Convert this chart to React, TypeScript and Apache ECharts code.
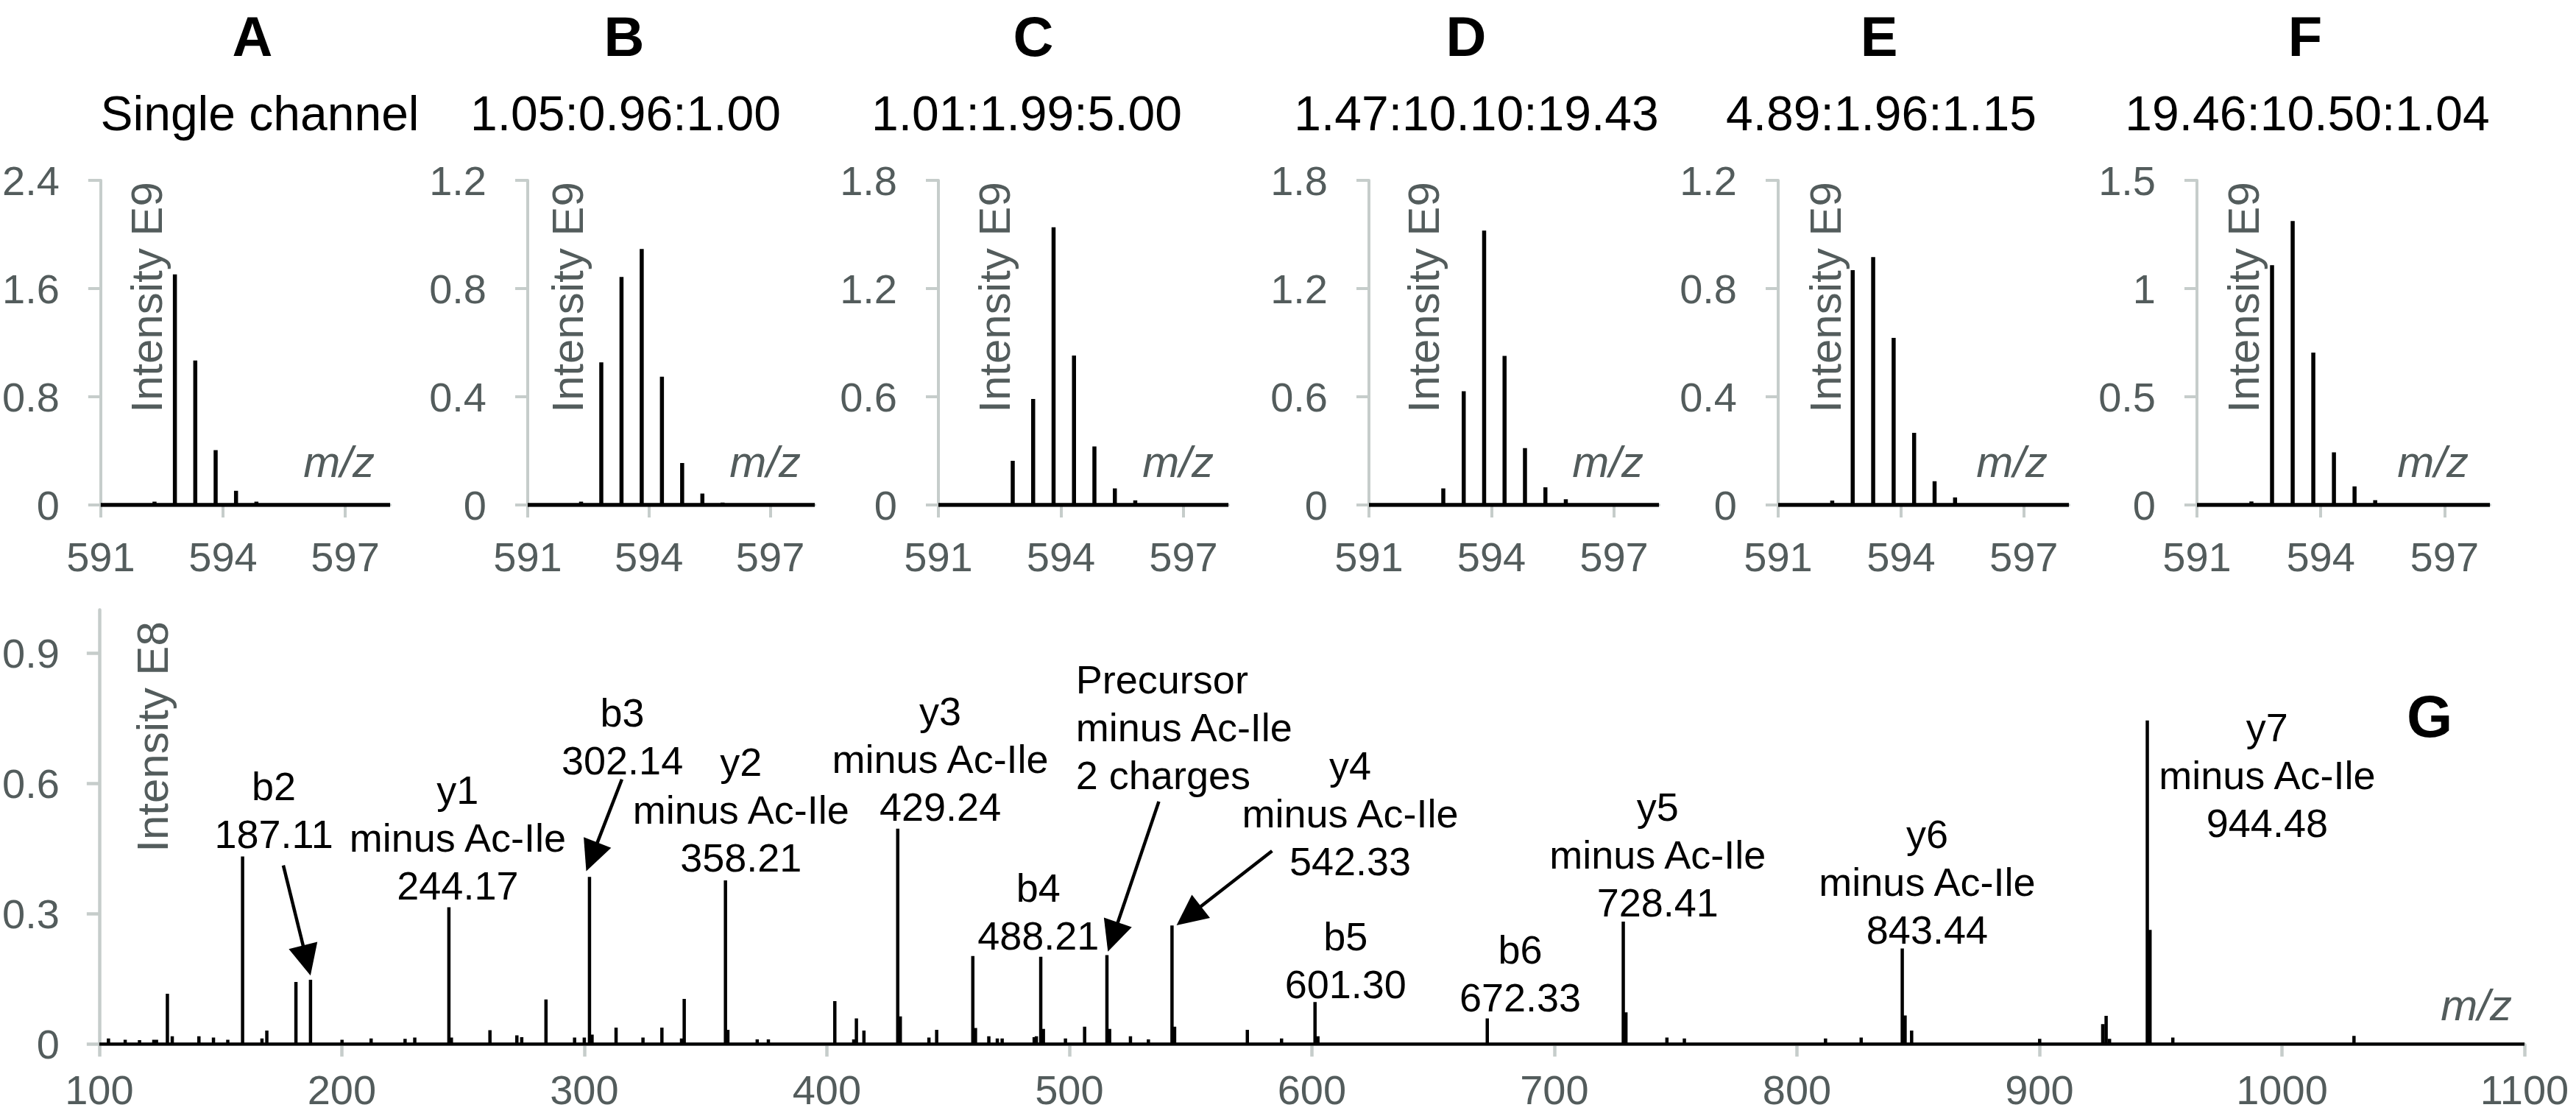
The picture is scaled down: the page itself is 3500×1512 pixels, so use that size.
import React, { useEffect, useRef } from 'react';
import * as echarts from 'echarts';

// ---------------- data ----------------
const PANEL_LETTERS = ['A', 'B', 'C', 'D', 'E', 'F'];
const PANEL_RATIOS = ['Single channel', '1.05:0.96:1.00', '1.01:1.99:5.00', '1.47:10.10:19.43', '4.89:1.96:1.15', '19.46:10.50:1.04'];

// isotope positions (m/z) shared by the six precursor panels
const ISO_MZ = [591.32, 591.82, 592.32, 592.82, 593.32, 593.82, 594.32, 594.82, 595.32, 595.82, 596.32];
const INT_A = [0, 0, 0.025, 1.705, 1.068, 0.405, 0.105, 0.025, 0.012, 0, 0];
const INT_B = [0, 0, 0.012, 0.527, 0.843, 0.946, 0.474, 0.155, 0.042, 0.009, 0];
const INT_C = [0, 0, 0, 0.245, 0.588, 1.54, 0.829, 0.324, 0.092, 0.026, 0.009];
const INT_D = [0, 0, 0.009, 0.092, 0.631, 1.521, 0.827, 0.315, 0.098, 0.032, 0.008];
const INT_E = [0.004, 0.004, 0.016, 0.868, 0.916, 0.618, 0.267, 0.088, 0.028, 0.006, 0];
const INT_F = [0, 0, 0.016, 1.108, 1.312, 0.704, 0.243, 0.086, 0.022, 0.008, 0];
const TOP_INTS = [INT_A, INT_B, INT_C, INT_D, INT_E, INT_F];
const TOP_Y_MAX = [2.4, 1.2, 1.8, 1.8, 1.2, 1.5];
const TOP_Y_STEP = [0.8, 0.4, 0.6, 0.6, 0.4, 0.5];
const TOP_X_MIN = 591;
const TOP_X_MAX = 598.1;
const TOP_X_TICKS = [591, 594, 597];

// MS/MS spectrum (panel G), intensity in E8
const G_MZ = [103.8, 110.7, 116.6, 122.5, 123.6, 128.1, 130.1, 141.1, 147.1, 153.0, 159.1, 167.1, 169.1, 181.1, 187.11, 200.1, 212.1, 226.1, 230.1, 244.17, 245.2, 261.1, 272.2, 274.2, 284.2, 296.0, 300.0, 302.14, 303.2, 313.1, 324.2, 332.0, 340.1, 341.2, 358.21, 359.2, 371.3, 375.9, 403.3, 411.1, 412.2, 415.3, 429.24, 430.3, 442.1, 445.3, 460.2, 461.3, 466.8, 470.3, 472.3, 485.5, 486.4, 488.21, 489.3, 498.4, 506.3, 515.5, 516.6, 525.2, 532.6, 542.33, 543.4, 573.4, 587.5, 601.3, 602.5, 672.33, 728.41, 729.5, 746.4, 753.6, 811.8, 826.5, 843.44, 844.6, 847.3, 900.1, 926.1, 927.5, 928.9, 944.48, 945.6, 955.0, 1029.7];
const G_INT = [0.013, 0.01, 0.009, 0.01, 0.01, 0.116, 0.018, 0.018, 0.015, 0.01, 0.432, 0.013, 0.031, 0.143, 0.148, 0.01, 0.013, 0.012, 0.015, 0.315, 0.015, 0.032, 0.02, 0.016, 0.103, 0.015, 0.015, 0.385, 0.022, 0.038, 0.015, 0.038, 0.013, 0.104, 0.377, 0.033, 0.011, 0.011, 0.099, 0.011, 0.059, 0.031, 0.496, 0.064, 0.015, 0.033, 0.203, 0.037, 0.018, 0.013, 0.013, 0.016, 0.018, 0.201, 0.035, 0.013, 0.04, 0.205, 0.035, 0.018, 0.011, 0.273, 0.04, 0.033, 0.013, 0.097, 0.018, 0.059, 0.282, 0.073, 0.015, 0.013, 0.013, 0.015, 0.22, 0.066, 0.031, 0.012, 0.046, 0.065, 0.012, 0.745, 0.263, 0.015, 0.019];
const G_X_MIN = 100;
const G_X_MAX = 1100;
const G_Y_MAX = 1.0;
const G_Y_TICKS = [0, 0.3, 0.6, 0.9];

// fragment annotations: text lines, anchor m/z, anchor intensity (first baseline), alignment
const ANN_TEXT = [
  ['b2', '187.11'],
  ['y1', 'minus Ac-Ile', '244.17'],
  ['b3', '302.14'],
  ['y2', 'minus Ac-Ile', '358.21'],
  ['y3', 'minus Ac-Ile', '429.24'],
  ['b4', '488.21'],
  ['Precursor', 'minus Ac-Ile', '2 charges'],
  ['y4', 'minus Ac-Ile', '542.33'],
  ['b5', '601.30'],
  ['b6', '672.33'],
  ['y5', 'minus Ac-Ile', '728.41'],
  ['y6', 'minus Ac-Ile', '843.44'],
  ['y7', 'minus Ac-Ile', '944.48'],
];
const ANN_MZ = [172.0, 247.8, 315.7, 364.6, 446.8, 487.2, 502.7, 615.8, 613.9, 685.9, 742.6, 853.7, 993.9];
const ANN_Y = [0.563, 0.553, 0.731, 0.618, 0.735, 0.328, 0.8085, 0.61, 0.217, 0.186, 0.514, 0.4515, 0.698];
const ANN_ALIGN = ['center', 'center', 'center', 'center', 'center', 'center', 'left', 'center', 'center', 'center', 'center', 'center', 'center'];

// arrows: [from m/z, from intensity, to m/z, to intensity]
const ARROWS = [
  [175.9, 0.4115, 187.1, 0.158],
  [315.5, 0.6095, 300.8, 0.398],
  [536.9, 0.5585, 515.9, 0.213],
  [583.6, 0.4447, 544.2, 0.2734],
];

// ---------------- layout / style ----------------
const FONT = '"Liberation Sans", Arial, Helvetica, sans-serif';
const GRAY_TEXT = '#535c5c';
const GRAY_AXIS = '#c6cdcb';
const TOP_GRID_LEFT = [136, 717, 1275, 1860, 2416, 2985];
const TOP_GRID_WIDTH = [394, 390, 394, 394, 395, 398];
const TOP_GRID_TOP = 245;
const TOP_GRID_H = 441;
const LETTER_X = [343, 848, 1404, 1992, 2553, 3132];
const LETTER_Y = 49;
const SUB_X = [353, 850, 1395, 2006, 2556, 3135];
const SUB_Y = 154;
const INT_LABEL_X = [199, 771, 1351, 1934, 2480, 3048];
const INT_LABEL_Y = 404;
const MZ_RIGHT = [509, 1088, 1649, 2233, 2782, 3354];
const MZ_Y = 627;
const ANN_FS = 54;
const ANN_GAP = 65;

function stickLine(mz: number[], ints: number[], min: number, max: number) {
  const out: number[][] = [[min, 0]];
  for (let i = 0; i < mz.length; i++) {
    if (ints[i] <= 0) continue;
    out.push([mz[i], 0], [mz[i], ints[i]], [mz[i], 0]);
  }
  out.push([max, 0]);
  return out;
}

const fmt = (v: number) => String(+(+v).toFixed(2));

export default function App() {
  const ref = useRef<HTMLDivElement>(null);
  useEffect(() => {
    if (!ref.current) return;
    const chart = echarts.init(ref.current, undefined, { renderer: 'svg' });

    const grids: any[] = [];
    const xAxes: any[] = [];
    const yAxes: any[] = [];
    const series: any[] = [];
    const graphics: any[] = [];

    const axisLabelBase = { color: GRAY_TEXT, fontFamily: FONT, fontSize: 56 };

    for (let p = 0; p < 6; p++) {
      grids.push({ left: TOP_GRID_LEFT[p], top: TOP_GRID_TOP, width: TOP_GRID_WIDTH[p], height: TOP_GRID_H, containLabel: false });
      xAxes.push({
        type: 'value', gridIndex: p, min: TOP_X_MIN, max: TOP_X_MAX, interval: 3,
        axisLine: { show: true, lineStyle: { color: GRAY_AXIS, width: 4 } },
        axisTick: { show: true, length: 17, customValues: TOP_X_TICKS, lineStyle: { color: GRAY_AXIS, width: 4 } },
        axisLabel: { ...axisLabelBase, margin: 42, customValues: TOP_X_TICKS, formatter: (v: number) => String(v) },
        splitLine: { show: false },
      });
      yAxes.push({
        type: 'value', gridIndex: p, min: 0, max: TOP_Y_MAX[p], interval: TOP_Y_STEP[p],
        axisLine: { show: true, lineStyle: { color: GRAY_AXIS, width: 4 } },
        axisTick: { show: true, length: 17, lineStyle: { color: GRAY_AXIS, width: 4 } },
        axisLabel: { ...axisLabelBase, margin: 56, formatter: fmt },
        splitLine: { show: false },
      });
      series.push({
        type: 'line', xAxisIndex: p, yAxisIndex: p, showSymbol: false, silent: true,
        data: stickLine(ISO_MZ, TOP_INTS[p], TOP_X_MIN, TOP_X_MAX),
        lineStyle: { color: '#000', width: 5.5, join: 'bevel' }, z: 5,
      });
      graphics.push(
        { type: 'text', x: LETTER_X[p], y: LETTER_Y, style: { text: PANEL_LETTERS[p], fill: '#000', font: `bold 76px ${FONT}`, textAlign: 'center', textVerticalAlign: 'middle', align: 'center', verticalAlign: 'middle' } },
        { type: 'text', x: SUB_X[p], y: SUB_Y, style: { text: PANEL_RATIOS[p], fill: '#000', font: `66px ${FONT}`, textAlign: 'center', textVerticalAlign: 'middle', align: 'center', verticalAlign: 'middle' } },
        { type: 'text', x: INT_LABEL_X[p], y: INT_LABEL_Y, rotation: Math.PI / 2, style: { text: 'Intensity E9', fill: GRAY_TEXT, font: `60px ${FONT}`, textAlign: 'center', textVerticalAlign: 'middle', align: 'center', verticalAlign: 'middle' } },
        { type: 'text', x: MZ_RIGHT[p], y: MZ_Y, style: { text: 'm/z', fill: GRAY_TEXT, font: `italic 60px ${FONT}`, textAlign: 'right', textVerticalAlign: 'middle', align: 'right', verticalAlign: 'middle' } },
      );
    }

    // panel G
    const g = 6;
    grids.push({ left: 134, top: 828.4, width: 3296, height: 590, containLabel: false });
    xAxes.push({
      type: 'value', gridIndex: g, min: G_X_MIN, max: G_X_MAX, interval: 100,
      axisLine: { show: true, lineStyle: { color: GRAY_AXIS, width: 4.5 } },
      axisTick: { show: true, length: 17, lineStyle: { color: GRAY_AXIS, width: 4.5 } },
      axisLabel: { ...axisLabelBase, margin: 34, formatter: (v: number) => String(v) },
      splitLine: { show: false },
    });
    yAxes.push({
      type: 'value', gridIndex: g, min: 0, max: G_Y_MAX, interval: 0.3,
      axisLine: { show: true, lineStyle: { color: GRAY_AXIS, width: 4.5 } },
      axisTick: { show: true, length: 17, customValues: G_Y_TICKS, lineStyle: { color: GRAY_AXIS, width: 4.5 } },
      axisLabel: { ...axisLabelBase, margin: 54, customValues: G_Y_TICKS, formatter: fmt },
      splitLine: { show: false },
    });
    series.push({
      type: 'line', xAxisIndex: g, yAxisIndex: g, showSymbol: false, silent: true,
      data: stickLine(G_MZ, G_INT, G_X_MIN, G_X_MAX),
      lineStyle: { color: '#000', width: 4.5, join: 'bevel' }, z: 5,
    });
    series.push({
      type: 'custom', xAxisIndex: g, yAxisIndex: g, silent: true, clip: false, z: 6,
      data: ANN_MZ.map((m, i) => [m, ANN_Y[i], i]),
      renderItem: (params: any, api: any) => {
        const i = api.value(2);
        const pt = api.coord([api.value(0), api.value(1)]);
        const al = ANN_ALIGN[i];
        return {
          type: 'group',
          children: ANN_TEXT[i].map((t, k) => ({
            type: 'text',
            style: {
              text: t, x: pt[0], y: pt[1] + k * ANN_GAP - 0.3465 * ANN_FS,
              fill: '#000', fontSize: ANN_FS, fontFamily: FONT,
              align: al, verticalAlign: 'middle', textAlign: al, textVerticalAlign: 'middle',
            },
          })),
        };
      },
    });
    series.push({
      type: 'custom', xAxisIndex: g, yAxisIndex: g, silent: true, clip: false, z: 6,
      data: ARROWS,
      renderItem: (params: any, api: any) => {
        const s = api.coord([api.value(0), api.value(1)]);
        const t = api.coord([api.value(2), api.value(3)]);
        const dx = t[0] - s[0];
        const dy = t[1] - s[1];
        const L = Math.hypot(dx, dy);
        const ux = dx / L, uy = dy / L;
        const HL = 42, HW = 20;
        const bx = t[0] - ux * HL, by = t[1] - uy * HL;
        const px = -uy, py = ux;
        return {
          type: 'group',
          children: [
            { type: 'line', shape: { x1: s[0], y1: s[1], x2: bx + ux * 4, y2: by + uy * 4 }, style: { stroke: '#000', lineWidth: 4.5 } },
            { type: 'polygon', shape: { points: [[t[0], t[1]], [bx + px * HW, by + py * HW], [bx - px * HW, by - py * HW]] }, style: { fill: '#000' } },
          ],
        };
      },
    });
    graphics.push(
      { type: 'text', x: 207, y: 1001, rotation: Math.PI / 2, style: { text: 'Intensity E8', fill: GRAY_TEXT, font: `60px ${FONT}`, textAlign: 'center', textVerticalAlign: 'middle', align: 'center', verticalAlign: 'middle' } },
      { type: 'text', x: 3301, y: 973, style: { text: 'G', fill: '#000', font: `bold 80px ${FONT}`, textAlign: 'center', textVerticalAlign: 'middle', align: 'center', verticalAlign: 'middle' } },
      { type: 'text', x: 3413, y: 1365, style: { text: 'm/z', fill: GRAY_TEXT, font: `italic 60px ${FONT}`, textAlign: 'right', textVerticalAlign: 'middle', align: 'right', verticalAlign: 'middle' } },
    );

    chart.setOption({
      animation: false,
      backgroundColor: '#ffffff',
      textStyle: { fontFamily: FONT },
      grid: grids,
      xAxis: xAxes,
      yAxis: yAxes,
      series,
      graphic: { elements: graphics },
    });
    return () => chart.dispose();
  }, []);
  return <div ref={ref} style={{ position: 'fixed', left: 0, top: 0, width: 3500, height: 1512, background: '#fff' }} />;
}
